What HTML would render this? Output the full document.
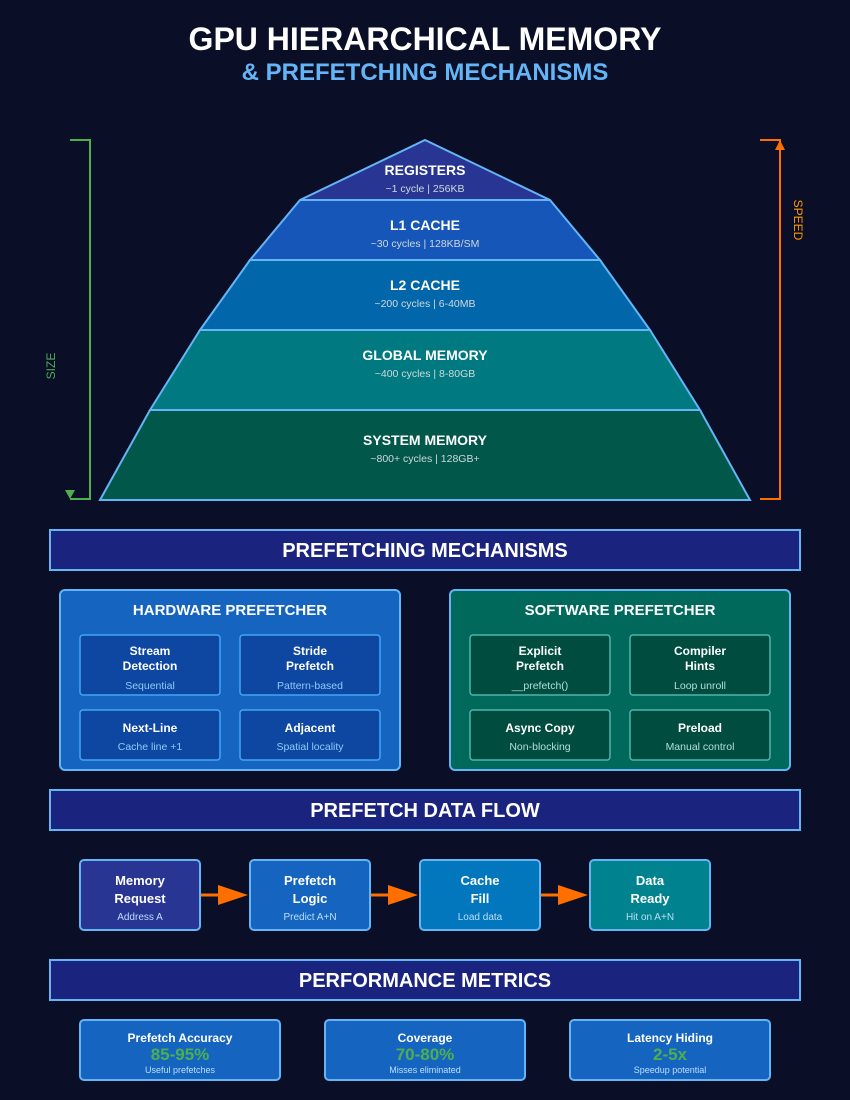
<!DOCTYPE html>
<html><head><meta charset="utf-8"><style>
html,body{margin:0;padding:0;background:#0a0e27;}
svg{display:block;font-family:"Liberation Sans",Arial,sans-serif;}
</style></head><body>
<svg width="850" height="1100" viewBox="0 0 850 1100" xmlns="http://www.w3.org/2000/svg">
<rect width="850" height="1100" fill="#0a0e27"/>
<text x="425" y="50" text-anchor="middle" font-size="32" font-weight="bold" fill="#ffffff">GPU HIERARCHICAL MEMORY</text>
<text x="425" y="80" text-anchor="middle" font-size="24" font-weight="bold" fill="#64b5f6">&amp; PREFETCHING MECHANISMS</text>

<polyline points="70,140 90,140 90,499 70,499" fill="none" stroke="#4caf50" stroke-width="2"/>
<polygon points="65,490 75,490 70,499" fill="#4caf50"/>
<text x="55" y="366" font-size="12" fill="#4caf50" text-anchor="middle" transform="rotate(-90 55 366)">SIZE</text>
<polyline points="760,140 780,140 780,499 760,499" fill="none" stroke="#ff6f00" stroke-width="2"/>
<polygon points="775,150 785,150 780,140" fill="#ff6f00"/>
<text x="794" y="220" font-size="12" fill="#ff9800" text-anchor="middle" transform="rotate(90 794 220)">SPEED</text>

<polygon points="100,500 150,410 700,410 750,500" fill="#00574a" stroke="#64b5f6" stroke-width="2"/>
<polygon points="150,410 200,330 650,330 700,410" fill="#007a80" stroke="#64b5f6" stroke-width="2"/>
<polygon points="200,330 250,260 600,260 650,330" fill="#0266ab" stroke="#64b5f6" stroke-width="2"/>
<polygon points="250,260 300,200 550,200 600,260" fill="#1656b8" stroke="#64b5f6" stroke-width="2"/>
<polygon points="300,200 425,140 550,200" fill="#283593" stroke="#64b5f6" stroke-width="2"/>
<g text-anchor="middle" fill="#fff">
<text x="425" y="175" font-size="14" font-weight="bold">REGISTERS</text>
<text x="425" y="192" font-size="10.5" fill="#cfd8dc">~1 cycle | 256KB</text>
<text x="425" y="230" font-size="14" font-weight="bold">L1 CACHE</text>
<text x="425" y="247" font-size="10.5" fill="#cfd8dc">~30 cycles | 128KB/SM</text>
<text x="425" y="290" font-size="14" font-weight="bold">L2 CACHE</text>
<text x="425" y="307" font-size="10.5" fill="#cfd8dc">~200 cycles | 6-40MB</text>
<text x="425" y="360" font-size="14" font-weight="bold">GLOBAL MEMORY</text>
<text x="425" y="377" font-size="10.5" fill="#cfd8dc">~400 cycles | 8-80GB</text>
<text x="425" y="445" font-size="14" font-weight="bold">SYSTEM MEMORY</text>
<text x="425" y="462" font-size="10.5" fill="#cfd8dc">~800+ cycles | 128GB+</text>
</g>

<g stroke="#64b5f6" stroke-width="2" fill="#1a237e">
<rect x="50" y="530" width="750" height="40"/>
<rect x="50" y="790" width="750" height="40"/>
<rect x="50" y="960" width="750" height="40"/>
</g>
<g text-anchor="middle" fill="#fff" font-size="20" font-weight="bold">
<text x="425" y="557">PREFETCHING MECHANISMS</text>
<text x="425" y="817">PREFETCH DATA FLOW</text>
<text x="425" y="987">PERFORMANCE METRICS</text>
</g>

<rect x="60" y="590" width="340" height="180" rx="5" fill="#1565c0" stroke="#64b5f6" stroke-width="2"/>
<text x="230" y="615" text-anchor="middle" font-size="15" font-weight="bold" fill="#fff">HARDWARE PREFETCHER</text>
<g fill="#0d47a1" stroke="#42a5f5" stroke-width="1.5">
<rect x="80" y="635" width="140" height="60" rx="3"/>
<rect x="240" y="635" width="140" height="60" rx="3"/>
<rect x="80" y="710" width="140" height="50" rx="3"/>
<rect x="240" y="710" width="140" height="50" rx="3"/>
</g>
<rect x="450" y="590" width="340" height="180" rx="5" fill="#00695c" stroke="#64b5f6" stroke-width="2"/>
<text x="620" y="615" text-anchor="middle" font-size="15" font-weight="bold" fill="#fff">SOFTWARE PREFETCHER</text>
<g fill="#004d40" stroke="#4db6ac" stroke-width="1.5">
<rect x="470" y="635" width="140" height="60" rx="3"/>
<rect x="630" y="635" width="140" height="60" rx="3"/>
<rect x="470" y="710" width="140" height="50" rx="3"/>
<rect x="630" y="710" width="140" height="50" rx="3"/>
</g>
<g text-anchor="middle" fill="#fff" font-size="12" font-weight="bold">
<text x="150" y="655">Stream</text><text x="150" y="670">Detection</text>
<text x="310" y="655">Stride</text><text x="310" y="670">Prefetch</text>
<text x="150" y="732">Next-Line</text>
<text x="310" y="732">Adjacent</text>
<text x="540" y="655">Explicit</text><text x="540" y="670">Prefetch</text>
<text x="700" y="655">Compiler</text><text x="700" y="670">Hints</text>
<text x="540" y="732">Async Copy</text>
<text x="700" y="732">Preload</text>
</g>
<g text-anchor="middle" font-size="10.5">
<g fill="#90caf9">
<text x="150" y="689">Sequential</text>
<text x="310" y="689">Pattern-based</text>
<text x="150" y="750">Cache line +1</text>
<text x="310" y="750">Spatial locality</text>
</g>
<g fill="#b2dfdb">
<text x="540" y="689">__prefetch()</text>
<text x="700" y="689">Loop unroll</text>
<text x="540" y="750">Non-blocking</text>
<text x="700" y="750">Manual control</text>
</g>
</g>

<g stroke="#64b5f6" stroke-width="2">
<rect x="80" y="860" width="120" height="70" rx="4" fill="#283593"/>
<rect x="250" y="860" width="120" height="70" rx="4" fill="#1565c0"/>
<rect x="420" y="860" width="120" height="70" rx="4" fill="#0277bd"/>
<rect x="590" y="860" width="120" height="70" rx="4" fill="#00838f"/>
</g>
<g stroke="#ff6f00" stroke-width="3">
<line x1="201" y1="895" x2="222" y2="895"/>
<line x1="371" y1="895" x2="392" y2="895"/>
<line x1="541" y1="895" x2="562" y2="895"/>
</g>
<g fill="#ff6f00">
<polygon points="218,885 248,895 218,905"/>
<polygon points="388,885 418,895 388,905"/>
<polygon points="558,885 588,895 558,905"/>
</g>
<g text-anchor="middle" fill="#fff" font-size="13" font-weight="bold">
<text x="140" y="885">Memory</text><text x="140" y="903">Request</text>
<text x="310" y="885">Prefetch</text><text x="310" y="903">Logic</text>
<text x="480" y="885">Cache</text><text x="480" y="903">Fill</text>
<text x="650" y="885">Data</text><text x="650" y="903">Ready</text>
</g>
<g text-anchor="middle" fill="#bbdefb" font-size="10">
<text x="140" y="920">Address A</text>
<text x="310" y="920">Predict A+N</text>
<text x="480" y="920">Load data</text>
<text x="650" y="920">Hit on A+N</text>
</g>

<g stroke="#64b5f6" stroke-width="2" fill="#1565c0">
<rect x="80" y="1020" width="200" height="60" rx="4"/>
<rect x="325" y="1020" width="200" height="60" rx="4"/>
<rect x="570" y="1020" width="200" height="60" rx="4"/>
</g>
<g text-anchor="middle">
<g fill="#fff" font-size="12" font-weight="bold">
<text x="180" y="1042">Prefetch Accuracy</text>
<text x="425" y="1042">Coverage</text>
<text x="670" y="1042">Latency Hiding</text>
</g>
<g fill="#4caf50" font-size="17" font-weight="bold">
<text x="180" y="1060">85-95%</text>
<text x="425" y="1060">70-80%</text>
<text x="670" y="1060">2-5x</text>
</g>
<g fill="#bbdefb" font-size="9">
<text x="180" y="1073">Useful prefetches</text>
<text x="425" y="1073">Misses eliminated</text>
<text x="670" y="1073">Speedup potential</text>
</g>
</g>
</svg>
</body></html>
